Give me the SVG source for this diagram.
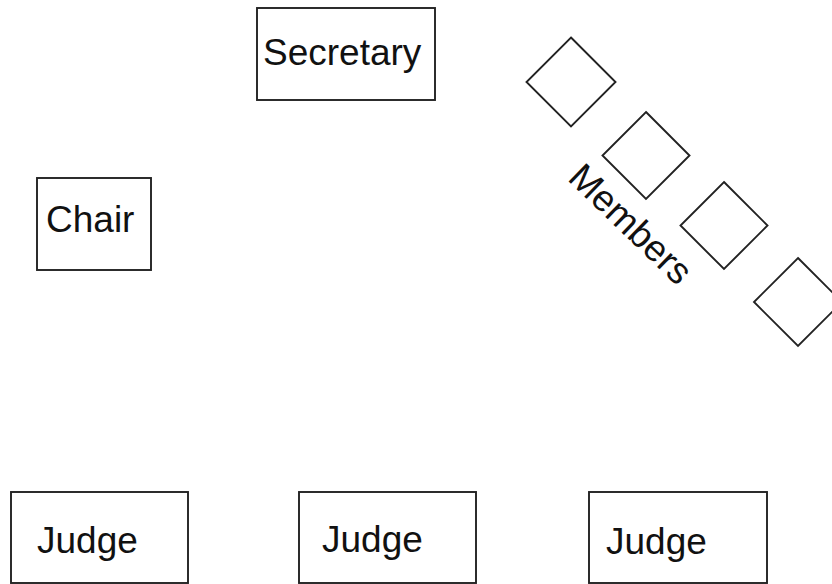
<svg xmlns="http://www.w3.org/2000/svg" width="832" height="584" viewBox="0 0 832 584">
<style>
.box{fill:#fff;stroke:#222;stroke-width:1.9}
.lbl{font-family:"Liberation Sans",Arial,sans-serif;font-size:37px;fill:#111}
</style>
<rect width="832" height="584" fill="#fff"/>
<g id="secretary"><rect class="box" x="257" y="8" width="178" height="92"/><text class="lbl" x="263" y="65">Secretary</text></g>
<g id="chair"><rect class="box" x="37" y="178" width="114" height="92"/><text class="lbl" x="46" y="232">Chair</text></g>
<g id="member1"><polygon class="box" points="571,37.5 615.5,82 571,126.5 526.5,82"/></g>
<g id="member2"><polygon class="box" points="646,112 689.5,155.5 646,199 602.5,155.5"/></g>
<g id="member3"><polygon class="box" points="724,182 767.5,225.5 724,269 680.5,225.5"/></g>
<g id="member4"><polygon class="box" points="798,258 842,302 798,346 754,302"/></g>
<g id="members-label"><text class="lbl" x="622" y="233" text-anchor="middle" transform="rotate(44 622 233)">Members</text></g>
<g id="judge1"><rect class="box" x="11" y="492" width="177" height="91"/><text class="lbl" x="37" y="553">Judge</text></g>
<g id="judge2"><rect class="box" x="299" y="492" width="177" height="91"/><text class="lbl" x="322" y="552">Judge</text></g>
<g id="judge3"><rect class="box" x="589" y="492" width="178" height="91"/><text class="lbl" x="606" y="554">Judge</text></g>
<g id="connectors"></g>
</svg>
